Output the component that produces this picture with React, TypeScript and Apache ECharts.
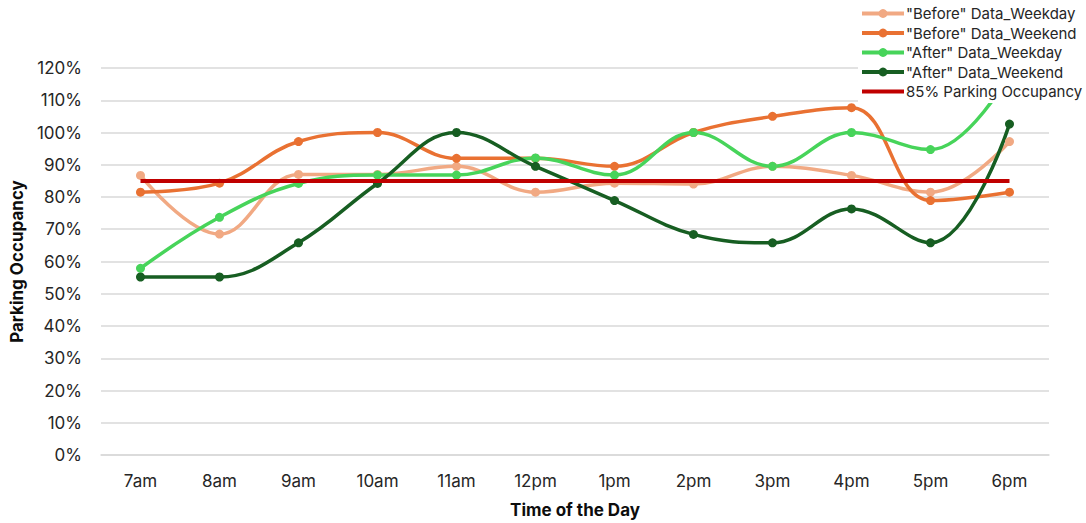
import React, { useEffect, useRef } from "react";
import * as echarts from "echarts";

const categories = ["7am", "8am", "9am", "10am", "11am", "12pm", "1pm", "2pm", "3pm", "4pm", "5pm", "6pm"];
const beforeWeekday = [86.7, 68.5, 87, 87, 89.5, 81.5, 84.3, 84, 89.5, 86.7, 81.5, 97.2];
const beforeWeekend = [81.5, 84.3, 97.2, 100, 92, 92, 89.5, 100, 105, 107.7, 78.9, 81.5];
const afterWeekday = [57.9, 73.7, 84.2, 86.8, 86.8, 92.1, 86.8, 100, 89.5, 100, 94.7, 118];
const afterWeekend = [55.2, 55.2, 65.8, 84.2, 100, 89.5, 78.9, 68.4, 65.8, 76.3, 65.8, 102.6];
const threshold = [85, 85, 85, 85, 85, 85, 85, 85, 85, 85, 85, 85];

const FONT = "Inter, 'Noto Sans', sans-serif";

export default function App() {
  const ref = useRef<HTMLDivElement>(null);
  useEffect(() => {
    if (!ref.current) return;
    const chart = echarts.init(ref.current, undefined, { renderer: "svg" });
    const mk = (name: string, data: number[], color: string) => ({
      name,
      type: "line",
      data,
      smooth: 0.4,
      symbol: "circle",
      symbolSize: 9,
      lineStyle: { color, width: 3.5 },
      itemStyle: { color },
      z: 2,
    });
    chart.setOption({
      animation: false,
      textStyle: { fontFamily: FONT },
      grid: { left: 101, right: 37, top: 68, bottom: 66 },
      legend: {
        orient: "vertical",
        left: 858,
        top: 4,
        itemWidth: 42,
        itemHeight: 11,
        itemGap: 4.5,
        padding: [2, 4, 4, 2],
        backgroundColor: "#ffffff",
        lineStyle: { width: 4 },
        textStyle: { fontSize: 15, color: "#262626", fontFamily: FONT, padding: [0, 0, 0, -3] },
        data: [
          "\"Before\" Data_Weekday",
          "\"Before\" Data_Weekend",
          "\"After\" Data_Weekday",
          "\"After\" Data_Weekend",
          { name: "85% Parking Occupancy", itemStyle: { opacity: 0 } },
        ],
        z: 10,
      },
      xAxis: {
        type: "category",
        data: categories,
        boundaryGap: true,
        axisLine: { show: true, lineStyle: { color: "#d9d9d9", width: 1.5 } },
        axisTick: { show: false },
        axisLabel: { fontSize: 17, color: "#262626", margin: 17, fontFamily: FONT },
        name: "Time of the Day",
        nameLocation: "middle",
        nameGap: 46,
        nameTextStyle: { fontSize: 17, fontWeight: "bold", color: "#0d0d0d", fontFamily: FONT },
      },
      yAxis: {
        type: "value",
        min: 0,
        max: 120,
        interval: 10,
        axisLine: { show: false },
        axisTick: { show: false },
        splitLine: { lineStyle: { color: "#d9d9d9", width: 1.5 } },
        axisLabel: { formatter: "{value}%", fontSize: 17, color: "#262626", margin: 19, fontFamily: FONT },
        name: "Parking Occupancy",
        nameLocation: "middle",
        nameGap: 76,
        nameTextStyle: { fontSize: 17, fontWeight: "bold", color: "#0d0d0d", fontFamily: FONT },
      },
      series: [
        mk("\"Before\" Data_Weekday", beforeWeekday, "#f1a983"),
        mk("\"Before\" Data_Weekend", beforeWeekend, "#e97132"),
        mk("\"After\" Data_Weekday", afterWeekday, "#47d45a"),
        mk("\"After\" Data_Weekend", afterWeekend, "#175e22"),
        {
          name: "85% Parking Occupancy",
          type: "line",
          data: threshold,
          symbol: "none",
          lineStyle: { color: "#c00000", width: 4 },
          itemStyle: { color: "#c00000" },
          z: 3,
        },
      ],
    });
    return () => chart.dispose();
  }, []);
  return <div ref={ref} style={{ position: "absolute", left: 0, top: 0, width: 1086, height: 523 }} />;
}
